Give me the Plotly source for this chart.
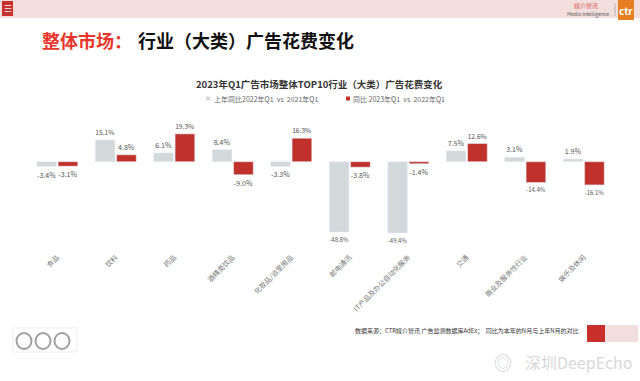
import plotly.graph_objects as go

categories = ["食品", "饮料", "药品", "酒精类饮品", "化妆品/浴室用品", "邮电通讯",
              "IT产品及办公自动化服务", "交通", "商业及服务性行业", "娱乐及休闲"]
prev_yoy = [-3.4, 15.1, 6.1, 8.4, -3.3, -48.8, -49.4, 7.5, 3.1, 1.9]
curr_yoy = [-3.1, 4.8, 19.3, -9.0, 16.3, -3.8, -1.4, 12.6, -14.4, -16.1]
series_names = ["上年同比2022年Q1  vs  2021年Q1", "同比 2023年Q1  vs  2022年Q1"]

W, H = 640, 381
GRAY = "#d3d8db"
RED = "#c0312b"

def px(x):
    return x / W

def py(y):
    return 1 - y / H

fig = go.Figure()
fig.add_trace(go.Bar(
    x=categories, y=prev_yoy, name=series_names[0], marker_color=GRAY,
    text=[f"{v:.1f}%" for v in prev_yoy], textposition="outside",
    textfont=dict(size=7, color="#555555"), cliponaxis=False,
))
fig.add_trace(go.Bar(
    x=categories, y=curr_yoy, name=series_names[1], marker_color=RED,
    text=[f"{v:.1f}%" for v in curr_yoy], textposition="outside",
    textfont=dict(size=7, color="#555555"), cliponaxis=False,
))

shapes = [
    # header band
    dict(type="rect", xref="paper", yref="paper", x0=0, x1=1, y0=py(18), y1=py(0),
         fillcolor="#f3dede", line_width=0, layer="below"),
    dict(type="rect", xref="paper", yref="paper", x0=px(2), x1=px(13), y0=py(16), y1=py(1),
         fillcolor="#c9302c", line_width=0),
    dict(type="rect", xref="paper", yref="paper", x0=px(618), x1=px(634), y0=py(20), y1=py(0),
         fillcolor="#e67e22", line_width=0),
    dict(type="line", xref="paper", yref="paper", x0=px(615), x1=px(615), y0=py(16), y1=py(3),
         line=dict(color="#aaaaaa", width=0.8)),
    # legend markers
    dict(type="rect", xref="paper", yref="paper", x0=px(206), x1=px(210), y0=py(100.5), y1=py(96.5),
         fillcolor=GRAY, line_width=0),
    dict(type="rect", xref="paper", yref="paper", x0=px(346), x1=px(350), y0=py(100.5), y1=py(96.5),
         fillcolor=RED, line_width=0),
    # footer blocks
    dict(type="rect", xref="paper", yref="paper", x0=px(587), x1=px(605), y0=py(342), y1=py(325),
         fillcolor="#c9302c", line_width=0),
    dict(type="rect", xref="paper", yref="paper", x0=px(605), x1=px(638), y0=py(342), y1=py(325),
         fillcolor="#f3dede", line_width=0),
    dict(type="rect", xref="paper", yref="paper", x0=px(13), x1=px(77),
         y0=py(352), y1=py(328), line=dict(color="#e2e2e2", width=0.6)),
]
for cx in (24, 43, 62):
    shapes.append(dict(type="circle", xref="paper", yref="paper",
                       x0=px(cx - 7.5), x1=px(cx + 7.5), y0=py(349), y1=py(333),
                       line=dict(color="#a0a0a0", width=2), fillcolor="white"))

def ann(text, x, y, size, color, xanchor="center", **kw):
    return dict(text=text, x=px(x), y=py(y), xref="paper", yref="paper", showarrow=False,
                xanchor=xanchor, yanchor="middle", font=dict(size=size, color=color, **kw))

annotations = [
    ann("☰", 7.5, 8.5, 9, "white"),
    ann("媒介智讯", 600, 6, 6, "#d9534f", xanchor="right"),
    ann("Media Intelligence", 612, 14, 5, "#555555", xanchor="right"),
    ann("<b>ctr</b>", 626, 11, 10, "white"),
    ann("<b>整体市场：</b>", 40, 40, 18, "#e8362d", xanchor="left", family="Noto Sans CJK SC"),
    ann("<b>行业（大类）广告花费变化</b>", 136, 40, 18, "#111111", xanchor="left",
        family="Noto Sans CJK SC"),
    ann("<b>2023年Q1广告市场整体TOP10行业（大类）广告花费变化</b>", 319, 84, 9.5, "#333333"),
    ann(series_names[0], 212, 98.5, 7, "#666666", xanchor="left"),
    ann(series_names[1], 351, 98.5, 7, "#666666", xanchor="left"),
    ann("数据来源：CTR媒介智讯 广告监测数据库AdEx；  同比为本年的N月与上年N月的对比",
        581, 330, 6, "#333333", xanchor="right"),
    ann("◎", 503, 362, 18, "#d0d0d0"),
    ann("深圳DeepEcho", 634, 362, 16, "#d8d8d8", xanchor="right"),
]

fig.update_layout(
    width=W, height=H,
    margin=dict(l=0, r=0, t=0, b=0),
    paper_bgcolor="white", plot_bgcolor="white",
    font=dict(family="Noto Sans CJK SC, Noto Sans, sans-serif"),
    barmode="group", bargap=0.27, bargroupgap=0.08,
    showlegend=False,
    xaxis=dict(domain=[px(28), px(613)], tickangle=-45, showline=False, showgrid=False,
               ticks="", tickfont=dict(size=7, color="#777777"), anchor="y",
               ticklabelstandoff=10),
    yaxis=dict(domain=[py(241), py(130)], range=[-55, 22], visible=False,
               showgrid=False, zeroline=False),
    shapes=shapes,
    annotations=annotations,
)

fig.write_html("out.html", post_script="document.body.style.margin='0';",
               config={"displayModeBar": False})
